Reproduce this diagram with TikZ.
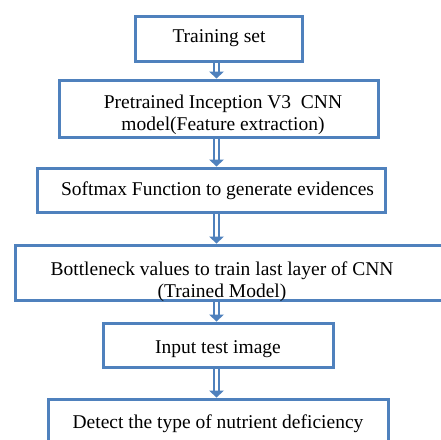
\documentclass[tikz,border=0pt]{standalone}
\usepackage{fontspec}
\setmainfont{Liberation Serif}
\usetikzlibrary{calc}
\definecolor{bx}{RGB}{79,129,189}
\tikzset{
  box/.style={draw=bx, line width=3pt, rectangle, inner sep=0pt, fill=white},
  txt/.style={font=\fontsize{19.5}{22}\selectfont, anchor=base, align=center, inner sep=0pt},
  shaft/.style={draw=bx, line width=1.3pt},
  head/.style={fill=bx}
}
\newcommand\darr[2]{%
  \coordinate (s#1) at (#1.south -| ax);
  \coordinate (e#1) at (#2.north -| ax);
  \draw[shaft] ($(s#1)+(-2.5,0)$) -- ($(e#1)+(-2.5,-6)$);
  \draw[shaft] ($(s#1)+(2.5,0)$) -- ($(e#1)+(2.5,-6)$);
  \fill[head] ($(e#1)+(-7.5,-7)$) -- (e#1) -- ($(e#1)+(7.5,-7)$) -- cycle;
}
\begin{document}
\begin{tikzpicture}[x=1pt,y=-1pt]
\useasboundingbox (0,0) rectangle (441,439);
\clip (0,0) rectangle (441,439);
\fill[white] (0,0) rectangle (441,439);
\coordinate (ax) at (216.5,0);
\node[box, minimum width=167pt, minimum height=45pt] (b1) at (218.5,38.5) {};
\node[box, minimum width=319pt, minimum height=57pt] (b2) at (218.5,108.5) {};
\node[box, minimum width=348pt, minimum height=44pt] (b3) at (211,190) {};
\node[box, minimum width=434pt, minimum height=55pt] (b4) at (232,272.5) {};
\node[box, minimum width=230pt, minimum height=44pt] (b5) at (218,345) {};
\node[box, minimum width=340pt, minimum height=64pt] (b6) at (218,431) {};
\node[txt] (t1) at (219,42) {Training set};
\node[txt] (t2) at (223,130) {Pretrained Inception V3\ \ CNN\\model(Feature extraction)};
\node[txt] (t3) at (217.5,195) {Softmax Function to generate evidences};
\node[txt] (t4) at (222,297) {Bottleneck values to train last layer of CNN\\(Trained Model)};
\node[txt] (t5) at (218,353) {Input test image};
\node[txt] (t6) at (218,428) {Detect the type of nutrient deficiency};
\darr{b1}{b2}
\darr{b2}{b3}
\darr{b3}{b4}
\darr{b4}{b5}
\darr{b5}{b6}
\end{tikzpicture}
\end{document}
